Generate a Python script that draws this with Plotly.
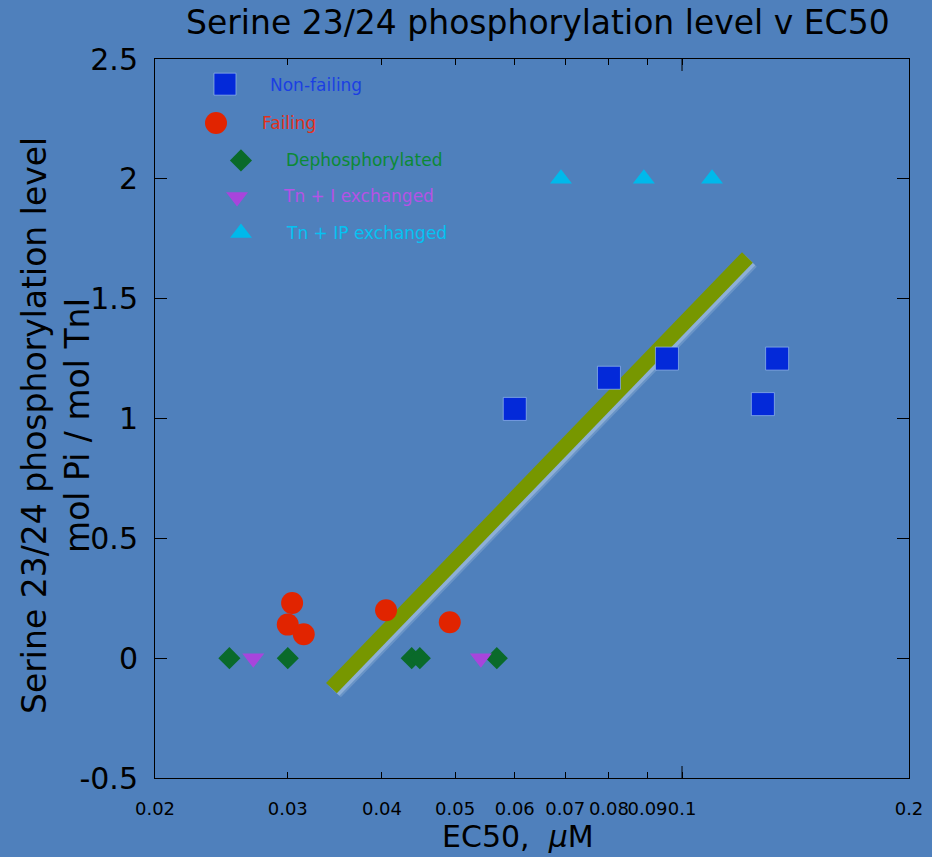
import numpy as np
import plotly.graph_objects as go

# ---------------- data ----------------
nonfailing_x = [0.060, 0.080, 0.0955, 0.128, 0.1337]
nonfailing_y = [1.04, 1.17, 1.25, 1.06, 1.25]

failing_x = [0.0304, 0.0300, 0.0315, 0.0405, 0.0492]
failing_y = [0.23, 0.14, 0.10, 0.20, 0.15]

dephos_x = [0.0251, 0.0300, 0.0438, 0.0449, 0.0568]
dephos_y = [0.0, 0.0, 0.0, 0.0, 0.0]

tni_x = [0.0270, 0.0541]
tni_y = [0.0, 0.0]

tnip_x = [0.0691, 0.0890, 0.1096]
tnip_y = [2.0, 2.0, 2.0]

fit_x = [0.03428, 0.1221]
fit_y = [-0.125, 1.672]

x_tickvals = [0.02, 0.03, 0.04, 0.05, 0.06, 0.07, 0.08, 0.09, 0.1, 0.2]
x_ticktext = ["0.02", "0.03", "0.04", "0.05", "0.06", "0.07", "0.08", "0.09", "0.1", "0.2"]
y_tickvals = [-0.5, 0, 0.5, 1, 1.5, 2, 2.5]
y_ticktext = ["-0.5", "0", "0.5", "1", "1.5", "2", "2.5"]

legend_labels = ["Non-failing", "Failing", "Dephosphorylated", "Tn + I exchanged", "Tn + IP exchanged"]
legend_symbols = ["square", "circle", "diamond", "triangle-down", "triangle-up"]
legend_sizes = [22, 22, 17, 19, 19]
marker_colors = ["#0329d9", "#e12400", "#0a6a2a", "#a845dc", "#00b9eb"]
text_colors = ["#1b3fe2", "#e2301a", "#0b8a35", "#b552e6", "#05c2f2"]

BG = "#4f80bc"
FONT = "DejaVu Sans"

# ---------------- geometry ----------------
W, H = 932, 857
L, R, T, B = 155, 23, 59, 79
PW, PH = W - L - R, H - T - B
XLOG_MIN, XLOG_MAX = np.log10(0.02), np.log10(0.2)
Y_MIN, Y_MAX = -0.5, 2.5

fig = go.Figure()

# soft shadow of the fit line (offset down-right, derived from the fit data)
for off, alpha in [(4.0, 0.18), (2.5, 0.3)]:
    sx = [v * 10 ** (off * (XLOG_MAX - XLOG_MIN) / PW) for v in fit_x]
    sy = [v - off * (Y_MAX - Y_MIN) / PH for v in fit_y]
    fig.add_trace(go.Scatter(x=sx, y=sy, mode="lines",
                             line=dict(color=f"rgba(225,238,252,{alpha})", width=15),
                             hoverinfo="skip", showlegend=False))
fig.add_trace(go.Scatter(x=fit_x, y=fit_y, mode="lines",
                         line=dict(color="#779700", width=15),
                         hoverinfo="skip", showlegend=False))

series = [
    (nonfailing_x, nonfailing_y, 0, 23),
    (failing_x, failing_y, 1, 22),
    (dephos_x, dephos_y, 2, 17),
    (tni_x, tni_y, 3, 19),
    (tnip_x, tnip_y, 4, 19),
]
for xs, ys, i, sz in series:
    fig.add_trace(go.Scatter(
        x=xs, y=ys, mode="markers", name=legend_labels[i], showlegend=False,
        marker=dict(symbol=legend_symbols[i], size=sz, color=marker_colors[i],
                    line=dict(color="rgba(150,185,235,0.7)" if i == 0 else "rgba(0,0,0,0)", width=1)),
    ))

# ---------------- hand-placed legend (overlay axes 0..1) ----------------
leg_marker_pos = [(0.0928, 0.965), (0.0809, 0.911), (0.114, 0.859), (0.1088, 0.808), (0.114, 0.758)]
leg_text_pos = [(0.1499, 0.964), (0.1393, 0.911), (0.1711, 0.860), (0.1671, 0.810), (0.1711, 0.758)]
for i in range(5):
    fig.add_trace(go.Scatter(
        x=[leg_marker_pos[i][0]], y=[leg_marker_pos[i][1]], xaxis="x2", yaxis="y2",
        mode="markers", showlegend=False, hoverinfo="skip",
        marker=dict(symbol=legend_symbols[i], size=legend_sizes[i], color=marker_colors[i],
                    line=dict(color="rgba(150,185,235,0.7)" if i == 0 else "rgba(0,0,0,0)", width=1)),
    ))
    fig.add_annotation(x=leg_text_pos[i][0], y=leg_text_pos[i][1], xref="paper", yref="paper",
                       text=legend_labels[i], showarrow=False, xanchor="left", yanchor="middle",
                       font=dict(family=FONT, size=17, color=text_colors[i]))

# ---------------- titles ----------------
fig.add_annotation(x=(538 - L) / PW, y=1 + (T - 22) / PH, xref="paper", yref="paper",
                   text="Serine 23/24 phosphorylation level v EC50", showarrow=False,
                   xanchor="center", yanchor="middle",
                   font=dict(family=FONT, size=33, color="black"))
fig.add_annotation(x=(518 - L) / PW, y=-(836 - (T + PH)) / PH, xref="paper", yref="paper",
                   text="EC50,  <i>μ</i>M", showarrow=False, xanchor="center", yanchor="middle",
                   font=dict(family=FONT, size=30, color="black"))
fig.add_annotation(x=-(L - 56) / PW, y=(T + PH - 426) / PH, xref="paper", yref="paper",
                   text="Serine 23/24 phosphorylation level<br>mol Pi / mol TnI", showarrow=False,
                   textangle=-90, xanchor="center", yanchor="middle",
                   font=dict(family=FONT, size=33, color="black"))

# longer tick at 0.1 (bottom and top)
for y0, y1 in [(0, 12 / PH), (1 - 12 / PH, 1)]:
    fig.add_shape(type="line", xref="x", yref="paper", x0=0.1, x1=0.1, y0=y0, y1=y1,
                  line=dict(color="black", width=1))

fig.update_layout(
    width=W, height=H,
    margin=dict(l=L, r=R, t=T, b=B, autoexpand=False),
    paper_bgcolor=BG, plot_bgcolor=BG,
    showlegend=False,
    xaxis=dict(type="log", range=[XLOG_MIN, XLOG_MAX], tickmode="array",
               tickvals=x_tickvals, ticktext=x_ticktext, ticks="inside", ticklen=6,
               tickangle=0, automargin=False,
               tickcolor="black", showline=True, linecolor="black", linewidth=1,
               mirror="ticks", showgrid=False, zeroline=False,
               tickfont=dict(family=FONT, size=18, color="black"), ticklabelstandoff=14),
    yaxis=dict(range=[Y_MIN, Y_MAX], tickmode="array", tickvals=y_tickvals,
               ticktext=y_ticktext, ticks="inside", ticklen=12, tickcolor="black",
               automargin=False,
               showline=True, linecolor="black", linewidth=1, mirror="ticks",
               showgrid=False, zeroline=False,
               tickfont=dict(family=FONT, size=30, color="black"), ticklabelstandoff=10),
    xaxis2=dict(range=[0, 1], overlaying="x", visible=False, fixedrange=True),
    yaxis2=dict(range=[0, 1], overlaying="y", visible=False, fixedrange=True),
)

fig.write_html("out.html")
